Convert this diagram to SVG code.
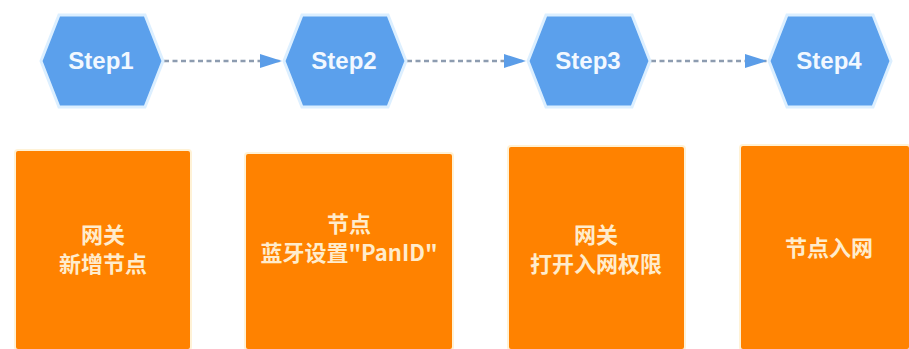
<svg xmlns="http://www.w3.org/2000/svg" width="909" height="349" viewBox="0 0 909 349">
<style>
.hex{fill:#5ba0ec;stroke:#dcefff;stroke-width:3}
.st{font-family:"Liberation Sans",Arial,sans-serif;font-weight:bold;font-size:24px;fill:#f2f8ff;text-anchor:middle}
.box{fill:#ff8200;stroke:#fff2d6;stroke-width:2}
.lb{font-family:"Noto Sans CJK SC","Liberation Sans",sans-serif;font-weight:bold;font-size:22px;fill:#ffeccc;text-anchor:middle}
.conn{stroke:#8d9cb0;stroke-width:2.5;stroke-dasharray:5 3.5;fill:none}
</style>
<defs>
<marker id="arr" viewBox="0 0 22 16" refX="22" refY="8" markerWidth="22" markerHeight="16" orient="auto" markerUnits="userSpaceOnUse">
<path d="M0,1 L22,8 L0,15 Z" fill="#5b9de8"/>
</marker>
</defs>
<rect width="909" height="349" fill="#ffffff"/>
<g id="connectors">
<line class="conn" x1="164" y1="61" x2="282" y2="61" marker-end="url(#arr)"/>
<line class="conn" x1="407" y1="61" x2="526" y2="61" marker-end="url(#arr)"/>
<line class="conn" x1="651" y1="61" x2="767" y2="61" marker-end="url(#arr)"/>
</g>
<g id="step1">
<polygon class="hex" points="41,61 59,15 145,15 163,61 145,107 59,107"/>
<text class="st" x="101" y="69">Step1</text>
</g>
<g id="step2">
<polygon class="hex" points="284,61 302,15 388,15 406,61 388,107 302,107"/>
<text class="st" x="344" y="69">Step2</text>
</g>
<g id="step3">
<polygon class="hex" points="528,61 546,15 632,15 650,61 632,107 546,107"/>
<text class="st" x="588" y="69">Step3</text>
</g>
<g id="step4">
<polygon class="hex" points="769,61 787,15 873,15 891,61 873,107 787,107"/>
<text class="st" x="829" y="69">Step4</text>
</g>
<g id="box1">
<rect class="box" x="15" y="150" width="176" height="200" rx="3"/>
<text class="lb" x="103" y="243">网关</text>
<text class="lb" x="103" y="272">新增节点</text>
</g>
<g id="box2">
<rect class="box" x="245" y="153" width="208" height="197" rx="3"/>
<text class="lb" x="349" y="232">节点</text>
<text class="lb" x="349" y="261">蓝牙设置"PanID"</text>
</g>
<g id="box3">
<rect class="box" x="508" y="146" width="177" height="204" rx="3"/>
<text class="lb" x="596" y="243">网关</text>
<text class="lb" x="596" y="272">打开入网权限</text>
</g>
<g id="box4">
<rect class="box" x="740" y="145" width="170" height="205" rx="3"/>
<text class="lb" x="829" y="256">节点入网</text>
</g>
</svg>
